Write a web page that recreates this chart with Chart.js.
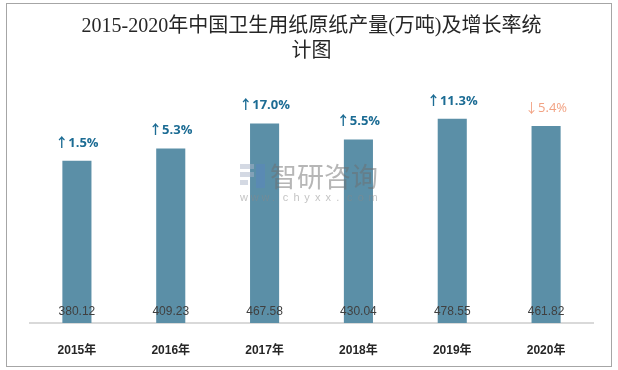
<!DOCTYPE html>
<html>
<head>
<meta charset="utf-8">
<script src="https://cdn.jsdelivr.net/npm/chart.js@4"></script>
<style>
html,body{margin:0;padding:0;background:#fff;}
#wrap{width:618px;height:370px;position:relative;}
</style>
</head>
<body>
<div id="wrap"><canvas id="c" width="618" height="370"></canvas></div>
<script>
const categories = ['2015年','2016年','2017年','2018年','2019年','2020年'];
const production = [380.12, 409.23, 467.58, 430.04, 478.55, 461.82];
const growth = [1.5, 5.3, 17.0, 5.5, 11.3, -5.4];
const titleLines = ['2015-2020年中国卫生用纸原纸产量(万吨)及增长率统', '计图'];

const frameAndLabels = {
  id: 'frameAndLabels',
  afterDatasetsDraw(chart) {
    const ctx = chart.ctx;
    const meta = chart.getDatasetMeta(0);
    ctx.save();
    meta.data.forEach((bar, i) => {
      ctx.font = '12px "Liberation Sans", Arial, sans-serif';
      ctx.fillStyle = '#404040';
      ctx.textAlign = 'center';
      ctx.textBaseline = 'middle';
      ctx.fillText(production[i].toFixed(2), bar.x, chart.chartArea.bottom - 11);
      const g = growth[i];
      const up = g >= 0;
      ctx.fillStyle = up ? '#1C6C94' : '#F2A283';
      ctx.font = (up ? 'bold ' : '') + '13px "Open Sans", "Noto Sans CJK SC", sans-serif';
      ctx.fillText((up ? '↑' : '↓') + Math.abs(g).toFixed(1) + '%', bar.x, bar.y - 18);
    });
    // watermark
    ctx.globalAlpha = 0.5;
    ctx.fillStyle = '#A9B4C8';
    ctx.fillRect(240, 164, 14, 5);
    ctx.fillRect(240, 172, 14, 5);
    ctx.fillRect(240, 180, 8, 5);
    ctx.fillStyle = '#5A86C0';
    ctx.fillRect(256, 164, 9, 24);
    ctx.fillStyle = '#6E6E6E';
    ctx.font = '27px "Noto Sans CJK SC", sans-serif';
    ctx.textAlign = 'left';
    ctx.fillText('智研咨询', 270, 177);
    ctx.font = '11px "Liberation Sans", sans-serif';
    ctx.fillStyle = '#8A8A8A';
    const url = 'www.chyxx.com';
    for (let k = 0; k < url.length; k++) ctx.fillText(url[k], 240 + k * 10.7, 198);
    ctx.restore();
  },
  afterDraw(chart) {
    const ctx = chart.ctx;
    ctx.save();
    ctx.strokeStyle = '#A6A6A6';
    ctx.lineWidth = 1;
    ctx.strokeRect(6.5, 3.5, 605, 363);
    ctx.restore();
  }
};

new Chart(document.getElementById('c'), {
  type: 'bar',
  data: {
    labels: categories,
    datasets: [{
      data: production,
      backgroundColor: '#5B8FA7',
      borderWidth: 0,
      barPercentage: 0.31,
      categoryPercentage: 1.0
    }]
  },
  options: {
    responsive: false,
    animation: false,
    devicePixelRatio: 1,
    layout: { padding: { left: 30, right: 25, top: 0, bottom: 0 } },
    plugins: {
      legend: { display: false },
      tooltip: { enabled: false },
      title: {
        display: true,
        text: titleLines,
        color: '#262626',
        font: { family: '"Liberation Serif", "Noto Sans CJK SC", serif', size: 20, weight: 'normal', lineHeight: 1.25 },
        padding: { top: 14, bottom: 3 }
      }
    },
    scales: {
      x: {
        grid: { display: false, drawTicks: false },
        border: { display: true, color: '#D9D9D9', width: 2 },
        ticks: { color: '#262626', padding: 20, font: { family: '"Liberation Sans", "Noto Sans CJK SC", sans-serif', size: 12, weight: 'bold' } },
        afterFit(scale) { scale.height = 47; }
      },
      y: { display: false, min: 0, max: 600 }
    }
  },
  plugins: [frameAndLabels]
});
</script>
</body>
</html>
